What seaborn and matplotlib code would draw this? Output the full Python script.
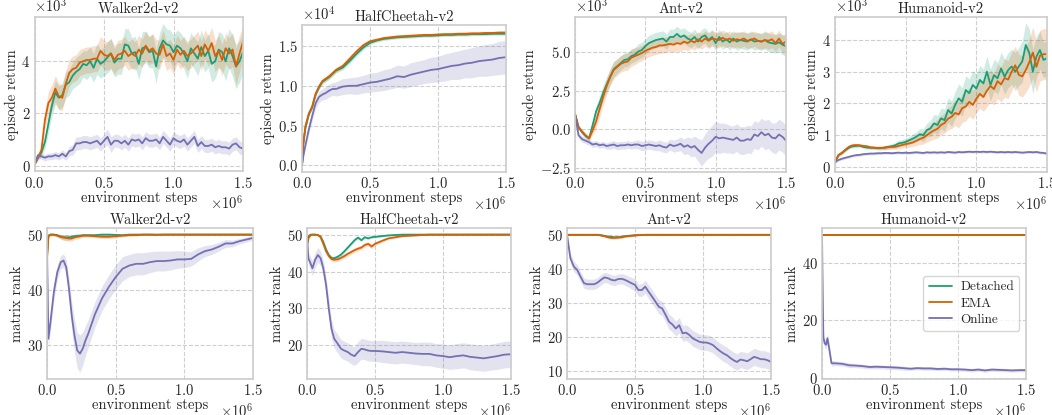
import numpy as np
import pandas as pd
import matplotlib
matplotlib.use("Agg")
import matplotlib.pyplot as plt
import seaborn as sns

# ---------------- data ----------------
METHODS = ["Detached", "EMA", "Online"]
ENVS = ["Walker2d-v2", "HalfCheetah-v2", "Ant-v2", "Humanoid-v2"]

# sampling grid (x 1e6 environment steps)
FINE = [round(i * 0.025, 3) for i in range(61)]

# ---- Walker2d episode return (x1e3) ----
walker_ret_detached = [0.04, 0.3, 0.5, 0.9, 1.6, 2.3, 2.8, 2.6, 2.7, 3.1,
                       3.2, 3.45, 3.6, 3.7, 3.9, 3.85, 4.0, 3.75, 4.1, 3.9,
                       4.0, 4.15, 4.3, 3.95, 4.1, 4.1, 4.65, 4.6, 4.3, 4.35,
                       3.9, 4.5, 4.55, 4.35, 4.4, 3.8, 4.5, 4.8, 4.65, 4.6,
                       4.35, 4.6, 4.5, 4.3, 4.0, 4.5, 4.3, 4.1, 4.55, 4.2,
                       4.4, 3.9, 4.0, 4.45, 4.35, 4.0, 4.5, 4.2, 3.8, 4.0, 4.35]
walker_ret_ema = [0.04, 0.3, 0.6, 1.75, 2.4, 2.6, 2.95, 2.65, 2.6, 3.15,
                  3.55, 3.7, 3.75, 3.95, 4.0, 4.05, 4.05, 4.1, 4.1, 4.4,
                  4.25, 4.2, 4.3, 4.05, 4.25, 4.3, 4.4, 4.2, 4.3, 4.2,
                  4.45, 4.3, 4.6, 4.4, 4.5, 4.3, 4.25, 4.65, 4.2, 4.3,
                  4.05, 4.45, 4.25, 4.4, 4.2, 4.3, 4.45, 4.6, 4.2, 4.65,
                  4.4, 4.7, 4.2, 4.4, 4.05, 4.5, 4.3, 4.45, 3.8, 4.3, 4.75]
walker_ret_online = [0.05, 0.4, 0.35, 0.3, 0.35, 0.35, 0.4, 0.35, 0.45, 0.35,
                     0.55, 0.6, 0.85, 0.85, 0.9, 0.9, 0.85, 0.9, 0.95, 0.8,
                     0.95, 1.1, 0.8, 0.95, 0.95, 0.85, 0.95, 0.8, 1.0, 0.95,
                     1.0, 0.85, 1.05, 0.95, 0.95, 1.0, 0.85, 1.1, 0.95, 0.8,
                     1.05, 0.95, 0.9, 1.0, 0.8, 0.95, 1.1, 0.75, 0.9, 0.75,
                     0.75, 0.8, 0.7, 0.75, 0.7, 0.7, 0.65, 0.8, 0.85, 0.7, 0.65]
walker_ret_detached_sd = [0.05, 0.1, 0.15, 0.25, 0.35, 0.4, 0.45, 0.45, 0.45, 0.5,
                          0.5, 0.5, 0.55, 0.55, 0.5, 0.55, 0.55, 0.55, 0.6, 0.55,
                          0.55, 0.6, 0.6, 0.55, 0.6, 0.6, 0.6, 0.65, 0.6, 0.6,
                          0.6, 0.65, 0.6, 0.6, 0.65, 0.65, 0.6, 0.65, 0.6, 0.6,
                          0.65, 0.6, 0.6, 0.6, 0.65, 0.6, 0.6, 0.65, 0.65, 0.6,
                          0.65, 0.7, 0.65, 0.7, 0.7, 0.75, 0.75, 0.8, 0.85, 0.8, 0.75]
walker_ret_ema_sd = [0.05, 0.1, 0.2, 0.35, 0.45, 0.5, 0.5, 0.5, 0.5, 0.5,
                     0.5, 0.5, 0.5, 0.5, 0.5, 0.5, 0.5, 0.5, 0.5, 0.55,
                     0.55, 0.55, 0.55, 0.55, 0.55, 0.55, 0.55, 0.55, 0.55, 0.55,
                     0.55, 0.55, 0.55, 0.55, 0.55, 0.55, 0.55, 0.55, 0.55, 0.55,
                     0.55, 0.55, 0.55, 0.55, 0.55, 0.55, 0.55, 0.55, 0.55, 0.55,
                     0.6, 0.6, 0.6, 0.6, 0.6, 0.6, 0.6, 0.65, 0.7, 0.7, 0.6]
walker_ret_online_sd = [0.05, 0.1, 0.12, 0.12, 0.13, 0.13, 0.14, 0.14, 0.15, 0.15,
                        0.18, 0.2, 0.25, 0.25, 0.25, 0.25, 0.25, 0.25, 0.25, 0.25,
                        0.25, 0.3, 0.3, 0.25, 0.25, 0.25, 0.25, 0.25, 0.25, 0.25,
                        0.25, 0.25, 0.25, 0.25, 0.25, 0.25, 0.25, 0.25, 0.25, 0.25,
                        0.25, 0.25, 0.25, 0.25, 0.25, 0.25, 0.25, 0.25, 0.25, 0.25,
                        0.25, 0.25, 0.25, 0.25, 0.25, 0.25, 0.25, 0.25, 0.25, 0.25, 0.25]

# ---- HalfCheetah episode return (x1e4) ----
hc_ret_steps = [0, 0.01, 0.025, 0.05, 0.075, 0.1, 0.125, 0.15, 0.175, 0.2, 0.225,
                0.25, 0.3, 0.35, 0.4, 0.45, 0.5, 0.55, 0.6, 0.65, 0.7, 0.75, 0.8,
                0.85, 0.9, 0.95, 1.0, 1.05, 1.1, 1.15, 1.2, 1.25, 1.3, 1.35, 1.4,
                1.45, 1.5]
hc_ret_detached = [0, 0.27, 0.47, 0.64, 0.73, 0.89, 0.98, 1.05, 1.08, 1.11, 1.15,
                   1.19, 1.23, 1.31, 1.4, 1.48, 1.54, 1.57, 1.59, 1.6, 1.61, 1.615, 1.62,
                   1.625, 1.63, 1.63, 1.635, 1.64, 1.64, 1.645, 1.645, 1.65, 1.65, 1.65,
                   1.655, 1.655, 1.655]
hc_ret_ema = [0, 0.28, 0.49, 0.65, 0.74, 0.9, 0.99, 1.06, 1.09, 1.12, 1.16,
              1.2, 1.25, 1.34, 1.43, 1.51, 1.56, 1.58, 1.6, 1.61, 1.62, 1.625, 1.63,
              1.635, 1.64, 1.64, 1.645, 1.65, 1.65, 1.655, 1.655, 1.66, 1.66, 1.665,
              1.665, 1.67, 1.67]
hc_ret_online = [0, 0.12, 0.25, 0.45, 0.62, 0.78, 0.86, 0.89, 0.91, 0.94, 0.96,
                 0.96, 0.99, 1.0, 1.0, 1.02, 1.04, 1.05, 1.07, 1.09, 1.12, 1.11, 1.14,
                 1.16, 1.18, 1.2, 1.21, 1.23, 1.25, 1.26, 1.28, 1.29, 1.31, 1.32, 1.33,
                 1.35, 1.36]
hc_ret_detached_sd = [0, 0.02, 0.03, 0.03, 0.03, 0.03, 0.03, 0.03, 0.03, 0.03, 0.03,
                      0.03, 0.03, 0.03, 0.03, 0.03, 0.02, 0.02, 0.02, 0.02, 0.02, 0.02,
                      0.02, 0.02, 0.02, 0.02, 0.02, 0.02, 0.02, 0.02, 0.02, 0.02, 0.02,
                      0.02, 0.02, 0.02, 0.02]
hc_ret_ema_sd = [0, 0.02, 0.03, 0.03, 0.03, 0.03, 0.03, 0.03, 0.03, 0.03, 0.03,
                 0.03, 0.03, 0.03, 0.03, 0.03, 0.02, 0.02, 0.02, 0.02, 0.02, 0.02,
                 0.02, 0.02, 0.02, 0.02, 0.02, 0.02, 0.02, 0.02, 0.02, 0.02, 0.02,
                 0.02, 0.02, 0.02, 0.02]
hc_ret_online_sd = [0, 0.03, 0.04, 0.05, 0.06, 0.06, 0.07, 0.07, 0.08, 0.08, 0.08,
                    0.09, 0.1, 0.1, 0.11, 0.11, 0.12, 0.12, 0.13, 0.13, 0.14, 0.14,
                    0.15, 0.15, 0.15, 0.16, 0.16, 0.17, 0.17, 0.18, 0.18, 0.19, 0.19,
                    0.2, 0.2, 0.21, 0.21]

# ---- Ant episode return (x1e3) ----
ant_ret_detached = [1.0, 0.15, -0.2, -0.45, -0.6, 0.25, 1.15, 1.7, 2.35, 2.9,
                    3.4, 3.9, 4.1, 4.3, 4.5, 4.55, 4.75, 4.85, 5.05, 5.15,
                    5.4, 5.6, 5.7, 5.8, 5.85, 5.9, 5.7, 6.0, 6.0, 6.2,
                    6.0, 6.1, 5.9, 5.8, 6.0, 5.7, 6.0, 6.1, 5.8, 6.0,
                    5.6, 6.0, 5.7, 5.85, 5.65, 5.9, 5.7, 5.8, 5.75, 5.7,
                    5.85, 5.7, 5.75, 5.7, 5.8, 5.65, 5.6, 5.55, 5.65, 5.5, 5.4]
ant_ret_ema = [1.0, 0.1, -0.15, -0.4, -0.6, -0.1, 0.5, 1.3, 2.1, 2.8,
               3.4, 3.85, 4.05, 4.25, 4.35, 4.4, 4.65, 4.75, 4.85, 4.95,
               5.1, 5.2, 5.3, 5.35, 5.45, 5.45, 5.5, 5.55, 5.5, 5.6,
               5.55, 5.7, 5.6, 5.75, 5.65, 5.85, 5.7, 5.9, 5.75, 5.9,
               5.85, 5.8, 5.95, 5.8, 5.9, 5.75, 5.85, 5.8, 5.9, 5.75,
               5.8, 5.9, 5.75, 5.7, 5.8, 5.75, 5.85, 5.6, 5.9, 5.55, 5.7]
ant_ret_online = [1.0, -0.4, -0.65, -0.75, -0.85, -1.0, -0.95, -1.05, -1.0, -1.1,
                  -1.05, -1.0, -1.1, -1.05, -1.05, -1.0, -1.05, -1.0, -1.0, -1.1,
                  -1.05, -1.0, -1.05, -1.1, -1.05, -1.15, -1.2, -1.0, -1.1, -1.05,
                  -0.95, -1.15, -1.05, -1.2, -1.1, -1.35, -1.55, -1.2, -0.95, -0.75,
                  -0.5, -0.6, -0.55, -0.6, -0.65, -0.7, -0.55, -0.75, -0.75, -0.65,
                  -0.7, -0.35, -0.45, -0.2, -0.4, -0.3, -0.55, -0.6, -0.35, -0.5, -0.75]
ant_ret_detached_sd = [0.1, 0.15, 0.15, 0.15, 0.15, 0.3, 0.4, 0.45, 0.5, 0.5,
                       0.5, 0.5, 0.45, 0.45, 0.45, 0.45, 0.45, 0.45, 0.5, 0.5,
                       0.5, 0.5, 0.5, 0.5, 0.5, 0.5, 0.5, 0.5, 0.5, 0.5,
                       0.5, 0.5, 0.5, 0.5, 0.5, 0.5, 0.5, 0.5, 0.5, 0.5,
                       0.5, 0.5, 0.5, 0.5, 0.5, 0.5, 0.55, 0.55, 0.55, 0.55,
                       0.55, 0.55, 0.55, 0.55, 0.6, 0.6, 0.6, 0.6, 0.6, 0.65, 0.65]
ant_ret_ema_sd = [0.1, 0.15, 0.15, 0.15, 0.15, 0.3, 0.45, 0.5, 0.55, 0.55,
                  0.55, 0.55, 0.55, 0.55, 0.55, 0.55, 0.55, 0.55, 0.5, 0.5,
                  0.5, 0.5, 0.5, 0.5, 0.5, 0.5, 0.5, 0.5, 0.5, 0.5,
                  0.5, 0.5, 0.5, 0.5, 0.5, 0.5, 0.5, 0.5, 0.5, 0.5,
                  0.5, 0.5, 0.5, 0.5, 0.5, 0.5, 0.5, 0.5, 0.5, 0.5,
                  0.5, 0.5, 0.5, 0.5, 0.5, 0.55, 0.55, 0.55, 0.55, 0.55, 0.55]
ant_ret_online_sd = [0.1, 0.2, 0.2, 0.2, 0.2, 0.2, 0.2, 0.2, 0.2, 0.2,
                     0.25, 0.25, 0.25, 0.25, 0.25, 0.25, 0.25, 0.25, 0.3, 0.3,
                     0.3, 0.3, 0.3, 0.3, 0.35, 0.35, 0.35, 0.35, 0.4, 0.4,
                     0.45, 0.5, 0.55, 0.6, 0.65, 0.75, 0.85, 0.9, 0.95, 1.0,
                     1.0, 1.0, 0.95, 0.95, 0.9, 0.9, 0.9, 0.9, 0.9, 0.9,
                     0.9, 0.9, 0.9, 0.9, 0.95, 0.95, 0.95, 1.0, 1.0, 1.0, 1.0]

# ---- Humanoid episode return (x1e3) ----
hum_ret_detached = [0.16, 0.37, 0.44, 0.53, 0.61, 0.65, 0.66, 0.67, 0.63, 0.61,
                    0.6, 0.61, 0.59, 0.59, 0.61, 0.63, 0.65, 0.68, 0.74, 0.76,
                    0.79, 0.84, 0.89, 0.95, 1.03, 1.0, 1.16, 1.21, 1.37, 1.32,
                    1.53, 1.47, 1.79, 1.68, 1.95, 2.16, 2.05, 2.42, 2.32, 2.58,
                    2.47, 2.74, 2.63, 3.0, 2.58, 2.89, 2.79, 3.1, 2.84, 3.05,
                    3.16, 3.0, 3.16, 3.32, 3.84, 3.58, 3.0, 3.47, 3.68, 3.37, 3.42]
hum_ret_ema = [0.16, 0.38, 0.45, 0.55, 0.64, 0.68, 0.69, 0.68, 0.66, 0.65,
               0.62, 0.6, 0.6, 0.6, 0.6, 0.62, 0.63, 0.63, 0.66, 0.69,
               0.72, 0.74, 0.77, 0.82, 0.88, 0.92, 1.0, 1.08, 1.15, 1.2,
               1.32, 1.38, 1.52, 1.58, 1.7, 1.65, 1.85, 1.9, 2.05, 1.95,
               2.15, 2.3, 2.2, 2.4, 2.55, 2.45, 2.7, 2.6, 2.8, 2.75,
               3.0, 3.2, 2.9, 2.85, 3.05, 3.3, 3.6, 3.15, 3.5, 3.55, 3.55]
hum_ret_online = [0.15, 0.22, 0.26, 0.29, 0.32, 0.35, 0.37, 0.38, 0.4, 0.41,
                  0.42, 0.42, 0.43, 0.43, 0.44, 0.44, 0.43, 0.44, 0.45, 0.44,
                  0.45, 0.44, 0.45, 0.46, 0.45, 0.44, 0.46, 0.45, 0.46, 0.45,
                  0.46, 0.45, 0.47, 0.46, 0.45, 0.47, 0.46, 0.47, 0.48, 0.47,
                  0.48, 0.47, 0.48, 0.47, 0.48, 0.47, 0.46, 0.47, 0.46, 0.47,
                  0.46, 0.47, 0.46, 0.45, 0.46, 0.47, 0.46, 0.47, 0.45, 0.44, 0.42]
hum_ret_detached_sd = [0.05, 0.05, 0.05, 0.05, 0.05, 0.05, 0.05, 0.05, 0.05, 0.05,
                       0.05, 0.05, 0.06, 0.06, 0.07, 0.07, 0.08, 0.08, 0.1, 0.1,
                       0.12, 0.12, 0.15, 0.15, 0.18, 0.2, 0.22, 0.25, 0.28, 0.3,
                       0.32, 0.35, 0.38, 0.4, 0.42, 0.45, 0.45, 0.45, 0.45, 0.45,
                       0.45, 0.45, 0.45, 0.5, 0.5, 0.5, 0.5, 0.5, 0.55, 0.55,
                       0.55, 0.6, 0.6, 0.65, 0.7, 0.75, 0.7, 0.65, 0.6, 0.55, 0.55]
hum_ret_ema_sd = [0.05, 0.05, 0.05, 0.05, 0.05, 0.05, 0.05, 0.05, 0.05, 0.05,
                  0.05, 0.05, 0.05, 0.05, 0.06, 0.06, 0.07, 0.08, 0.09, 0.1,
                  0.1, 0.12, 0.13, 0.15, 0.17, 0.2, 0.22, 0.25, 0.27, 0.3,
                  0.3, 0.32, 0.35, 0.37, 0.4, 0.42, 0.45, 0.45, 0.45, 0.45,
                  0.45, 0.45, 0.45, 0.5, 0.5, 0.5, 0.55, 0.55, 0.6, 0.6,
                  0.6, 0.6, 0.65, 0.65, 0.7, 0.75, 0.8, 0.8, 0.8, 0.8, 0.8]
hum_ret_online_sd = [0.04, 0.04, 0.04, 0.04, 0.04, 0.04, 0.04, 0.04, 0.04, 0.04,
                     0.04, 0.04, 0.04, 0.04, 0.04, 0.04, 0.04, 0.04, 0.04, 0.04,
                     0.04, 0.04, 0.04, 0.04, 0.04, 0.04, 0.04, 0.04, 0.04, 0.04,
                     0.04, 0.04, 0.04, 0.04, 0.04, 0.04, 0.04, 0.04, 0.04, 0.04,
                     0.04, 0.04, 0.04, 0.04, 0.04, 0.04, 0.04, 0.04, 0.04, 0.04,
                     0.04, 0.04, 0.04, 0.04, 0.04, 0.04, 0.04, 0.04, 0.04, 0.04, 0.04]

# ---- Walker2d matrix rank ----
walker_rank_steps = [0, 0.01, 0.025, 0.05, 0.075, 0.1, 0.12, 0.14, 0.16, 0.18,
                     0.2, 0.22, 0.24, 0.26, 0.28, 0.3, 0.35, 0.4, 0.45, 0.5,
                     0.55, 0.6, 0.65, 0.7, 0.75, 0.8, 0.85, 0.9, 0.95, 1.0,
                     1.05, 1.1, 1.15, 1.2, 1.25, 1.3, 1.35, 1.4, 1.45, 1.5]
walker_rank_detached = [46.0, 49.8, 50, 50, 49.9, 49.6, 49.5, 49.5, 49.5, 49.6,
                        49.7, 49.8, 49.8, 49.9, 49.9, 49.9, 49.9, 50, 50, 49.95,
                        49.9, 50, 50, 50, 50, 50, 50, 50, 50, 50,
                        50, 50, 50, 50, 50, 50, 50, 50, 50, 50]
walker_rank_ema = [45.5, 49.7, 50, 50, 49.8, 49.6, 49.5, 49.4, 49.3, 49.3,
                   49.5, 49.6, 49.7, 49.8, 49.8, 49.8, 49.7, 49.6, 49.6, 49.7,
                   49.8, 49.9, 49.9, 50, 50, 49.95, 50, 50, 50, 50,
                   50, 50, 50, 50, 50, 50, 50, 50, 50, 50]
walker_rank_online = [47.5, 31.1, 34.1, 39.6, 43.2, 45.0, 45.3, 44.1, 40.2, 35.3,
                      31.7, 29.0, 28.4, 29.3, 30.8, 32.0, 35.6, 38.4, 40.5, 42.3,
                      43.8, 44.4, 44.7, 44.7, 45.0, 45.2, 45.2, 45.3, 45.5, 45.5,
                      45.6, 46.4, 47.0, 47.3, 47.8, 48.4, 48.4, 48.8, 49.1, 49.4]
walker_rank_detached_sd = [0.5, 0.3, 0.2, 0.2, 0.3, 0.4, 0.5, 0.5, 0.5, 0.4,
                           0.3, 0.3, 0.3, 0.2, 0.2, 0.2, 0.2, 0.2, 0.15, 0.15,
                           0.1, 0.1, 0.1, 0.1, 0.1, 0.1, 0.1, 0.1, 0.1, 0.1,
                           0.1, 0.1, 0.1, 0.1, 0.1, 0.1, 0.1, 0.1, 0.1, 0.1]
walker_rank_ema_sd = [0.5, 0.3, 0.2, 0.2, 0.3, 0.4, 0.5, 0.5, 0.5, 0.5,
                      0.4, 0.4, 0.4, 0.3, 0.3, 0.3, 0.3, 0.3, 0.3, 0.3,
                      0.2, 0.2, 0.15, 0.1, 0.1, 0.1, 0.1, 0.1, 0.1, 0.1,
                      0.1, 0.1, 0.1, 0.1, 0.1, 0.1, 0.1, 0.1, 0.1, 0.1]
walker_rank_online_sd = [0.5, 1.5, 1.5, 1.5, 1.3, 1.2, 1.2, 1.3, 1.8, 2.5,
                         3.0, 3.2, 3.4, 3.0, 2.7, 2.5, 2.3, 2.2, 2.2, 2.2,
                         2.2, 2.0, 2.0, 2.0, 1.9, 1.8, 1.8, 1.7, 1.6, 1.5,
                         1.3, 1.2, 1.0, 0.9, 0.8, 0.7, 0.6, 0.5, 0.45, 0.4]

# ---- HalfCheetah matrix rank ----
hc_rank_steps = [0, 0.01, 0.025, 0.04, 0.06, 0.08, 0.1, 0.12, 0.14, 0.16,
                 0.18, 0.2, 0.225, 0.25, 0.275, 0.3, 0.325, 0.35, 0.375, 0.4,
                 0.425, 0.45, 0.475, 0.5, 0.55, 0.6, 0.65, 0.7, 0.75, 0.8,
                 0.85, 0.9, 0.95, 1.0, 1.05, 1.1, 1.15, 1.2, 1.25, 1.3,
                 1.35, 1.4, 1.45, 1.5]
hc_rank_detached = [47.5, 49.5, 50, 50, 50, 49.9, 49.5, 48.0, 46.0, 44.5,
                    43.7, 43.6, 44.0, 44.6, 45.5, 46.5, 47.5, 48.5, 49.2, 48.5,
                    49.3, 49.0, 49.3, 49.4, 49.6, 49.8, 49.9, 50, 50, 50,
                    50, 50, 50, 50, 50, 50, 50, 50, 50, 50,
                    50, 50, 50, 50]
hc_rank_ema = [47.0, 49.0, 49.8, 50, 50, 49.9, 49.3, 47.5, 45.5, 44.2,
               43.4, 43.2, 43.3, 43.7, 44.2, 44.8, 45.3, 45.8, 46.2, 46.5,
               47.2, 47.5, 46.8, 47.5, 48.3, 49.0, 49.3, 49.6, 49.7, 49.8,
               49.9, 50, 50, 50, 50, 50, 50, 50, 50, 50,
               50, 50, 50, 50]
hc_rank_online = [49.5, 43.6, 42.3, 40.9, 43.2, 44.5, 43.6, 40.9, 36.4, 30.0,
                  24.5, 21.8, 20.5, 19.1, 18.6, 18.2, 17.5, 17.1, 18.2, 19.1,
                  18.9, 18.6, 18.5, 18.5, 18.4, 18.2, 18.0, 18.2, 18.0, 17.8,
                  17.7, 17.7, 17.3, 17.1, 16.8, 17.1, 17.3, 16.9, 16.7, 16.5,
                  16.8, 17.1, 17.5, 17.6]
hc_rank_detached_sd = [0.5, 0.4, 0.2, 0.1, 0.1, 0.1, 0.2, 0.3, 0.4, 0.5,
                       0.5, 0.5, 0.5, 0.5, 0.5, 0.5, 0.4, 0.4, 0.4, 0.4,
                       0.4, 0.3, 0.3, 0.3, 0.2, 0.2, 0.1, 0.1, 0.1, 0.1,
                       0.1, 0.1, 0.1, 0.1, 0.1, 0.1, 0.1, 0.1, 0.1, 0.1,
                       0.1, 0.1, 0.1, 0.1]
hc_rank_ema_sd = [0.5, 0.4, 0.2, 0.1, 0.1, 0.1, 0.2, 0.3, 0.4, 0.5,
                  0.6, 0.6, 0.6, 0.6, 0.6, 0.6, 0.6, 0.6, 0.6, 0.6,
                  0.6, 0.6, 0.6, 0.5, 0.4, 0.3, 0.3, 0.2, 0.2, 0.2,
                  0.1, 0.1, 0.1, 0.1, 0.1, 0.1, 0.1, 0.1, 0.1, 0.1,
                  0.1, 0.1, 0.1, 0.1]
hc_rank_online_sd = [0.5, 1.5, 1.8, 2.0, 2.0, 2.0, 2.0, 2.0, 2.2, 2.5,
                     2.5, 2.5, 2.5, 2.5, 2.5, 2.5, 2.5, 2.5, 2.8, 2.8,
                     2.8, 2.8, 2.8, 2.8, 3.0, 3.0, 3.0, 3.0, 3.0, 3.0,
                     3.2, 3.2, 3.2, 3.3, 3.3, 3.4, 3.4, 3.5, 3.5, 3.5,
                     3.5, 3.6, 3.6, 3.6]

# ---- Ant matrix rank ----
ant_rank_detached = [50, 50, 50, 50, 50, 50, 50, 50, 50, 50,
                     49.9, 49.7, 49.5, 49.4, 49.3, 49.3, 49.4, 49.6, 49.7, 49.8,
                     49.9, 49.9, 50, 50, 50, 50, 50, 50, 50, 50,
                     50, 50, 50, 50, 50, 50, 50, 50, 50, 50,
                     50, 50, 50, 50, 50, 50, 50, 50, 50, 50,
                     50, 50, 50, 50, 50, 50, 50, 50, 50, 50, 50]
ant_rank_ema = [50, 50, 50, 50, 50, 50, 50, 50, 50, 50,
                49.8, 49.6, 49.3, 49.1, 49.1, 49.2, 49.3, 49.5, 49.6, 49.7,
                49.8, 49.9, 49.9, 50, 50, 50, 50, 50, 50, 50,
                50, 50, 50, 50, 50, 50, 50, 50, 50, 50,
                50, 50, 50, 50, 50, 50, 50, 50, 50, 50,
                50, 50, 50, 50, 50, 50, 50, 50, 50, 50, 50]
ant_rank_online = [50, 43.1, 40.7, 39.7, 37.7, 35.8, 35.5, 35.5, 35.5, 36.0,
                   36.8, 37.5, 37.3, 36.8, 36.6, 37.0, 37.1, 36.8, 36.3, 35.8,
                   35.3, 33.8, 33.8, 34.8, 33.3, 31.9, 30.4, 28.9, 28.4, 26.5,
                   24.5, 23.7, 22.5, 23.5, 21.1, 21.3, 20.6, 19.6, 19.1, 18.6,
                   18.4, 18.4, 18.1, 17.6, 16.7, 15.9, 15.2, 14.7, 13.9, 13.2,
                   12.7, 13.4, 13.2, 12.9, 13.5, 14.2, 13.9, 13.5, 13.5, 13.2, 12.7]
ant_rank_detached_sd = [0.1, 0.1, 0.1, 0.1, 0.1, 0.1, 0.1, 0.1, 0.1, 0.1,
                        0.2, 0.3, 0.4, 0.4, 0.4, 0.4, 0.4, 0.3, 0.3, 0.2,
                        0.2, 0.1, 0.1, 0.1, 0.1, 0.1, 0.1, 0.1, 0.1, 0.1,
                        0.1, 0.1, 0.1, 0.1, 0.1, 0.1, 0.1, 0.1, 0.1, 0.1,
                        0.1, 0.1, 0.1, 0.1, 0.1, 0.1, 0.1, 0.1, 0.1, 0.1,
                        0.1, 0.1, 0.1, 0.1, 0.1, 0.1, 0.1, 0.1, 0.1, 0.1, 0.1]
ant_rank_ema_sd = [0.1, 0.1, 0.1, 0.1, 0.1, 0.1, 0.1, 0.1, 0.1, 0.1,
                   0.2, 0.3, 0.4, 0.4, 0.4, 0.4, 0.4, 0.3, 0.3, 0.2,
                   0.2, 0.1, 0.1, 0.1, 0.1, 0.1, 0.1, 0.1, 0.1, 0.1,
                   0.1, 0.1, 0.1, 0.1, 0.1, 0.1, 0.1, 0.1, 0.1, 0.1,
                   0.1, 0.1, 0.1, 0.1, 0.1, 0.1, 0.1, 0.1, 0.1, 0.1,
                   0.1, 0.1, 0.1, 0.1, 0.1, 0.1, 0.1, 0.1, 0.1, 0.1, 0.1]
ant_rank_online_sd = [0.3, 1.5, 1.5, 1.5, 1.5, 1.5, 1.5, 1.5, 1.5, 1.5,
                      1.5, 1.5, 1.5, 1.5, 1.5, 1.5, 1.5, 1.6, 1.6, 1.7,
                      1.8, 1.8, 1.9, 1.9, 2.0, 2.0, 2.0, 2.1, 2.1, 2.1,
                      2.2, 2.2, 2.2, 2.3, 2.3, 2.3, 2.3, 2.3, 2.3, 2.3,
                      2.3, 2.3, 2.3, 2.3, 2.3, 2.3, 2.4, 2.4, 2.4, 2.4,
                      2.4, 2.4, 2.4, 2.4, 2.5, 2.5, 2.5, 2.5, 2.5, 2.5, 2.5]

# ---- Humanoid matrix rank ----
hum_rank_steps = [0, 0.005, 0.01, 0.02, 0.03, 0.04, 0.05, 0.06, 0.07, 0.1,
                  0.15, 0.2, 0.25, 0.3, 0.35, 0.4, 0.45, 0.5, 0.55, 0.6,
                  0.65, 0.7, 0.75, 0.8, 0.85, 0.9, 0.95, 1.0, 1.05, 1.1,
                  1.15, 1.2, 1.25, 1.3, 1.35, 1.4, 1.45, 1.5]
hum_rank_detached = [50, 50, 50, 50, 50, 50, 50, 50, 50, 50,
                     50, 50, 50, 50, 50, 50, 50, 50, 50, 50,
                     50, 50, 50, 50, 50, 50, 50, 50, 50, 50,
                     50, 50, 50, 50, 50, 50, 50, 50]
hum_rank_ema = [50, 50, 50, 50, 50, 50, 50, 50, 50, 50,
                50, 50, 50, 50, 50, 50, 50, 50, 50, 50,
                50, 50, 50, 50, 50, 50, 50, 50, 50, 50,
                50, 50, 50, 50, 50, 50, 50, 50]
hum_rank_online = [50, 30, 14, 12, 11.5, 13.8, 11, 8, 5, 5.0,
                   4.8, 4.3, 4.2, 4.0, 3.7, 3.8, 3.7, 3.6, 3.5, 3.3,
                   3.1, 3.3, 3.2, 3.2, 3.0, 3.1, 2.9, 2.9, 2.8, 2.6,
                   2.8, 2.5, 2.8, 2.7, 2.6, 2.5, 2.6, 2.6]
hum_rank_flat_sd = [0, 0, 0, 0, 0, 0, 0, 0, 0, 0,
                    0, 0, 0, 0, 0, 0, 0, 0, 0, 0,
                    0, 0, 0, 0, 0, 0, 0, 0, 0, 0,
                    0, 0, 0, 0, 0, 0, 0, 0]
hum_rank_online_sd = [0.1, 3.0, 2.0, 1.5, 1.5, 1.5, 1.5, 1.2, 1.0, 0.8,
                      0.8, 0.8, 0.7, 0.7, 0.7, 0.7, 0.7, 0.7, 0.7, 0.7,
                      0.6, 0.6, 0.6, 0.6, 0.6, 0.6, 0.6, 0.6, 0.6, 0.6,
                      0.6, 0.6, 0.6, 0.6, 0.6, 0.6, 0.6, 0.6]

# ---------------- panel specs ----------------
panels = [
    dict(steps=FINE, means=(walker_ret_detached, walker_ret_ema, walker_ret_online),
         sds=(walker_ret_detached_sd, walker_ret_ema_sd, walker_ret_online_sd),
         scale=1e3, ylim=(-230, 5700), yticks=[0, 2000, 4000], ylabel="episode return",
         title=ENVS[0], px=(34.5, 17, 243, 171.5), sci=True),
    dict(steps=hc_ret_steps, means=(hc_ret_detached, hc_ret_ema, hc_ret_online),
         sds=(hc_ret_detached_sd, hc_ret_ema_sd, hc_ret_online_sd),
         scale=1e4, ylim=(-850, 17650), yticks=[0, 5000, 10000, 15000], ylabel="episode return",
         title=ENVS[1], px=(302, 25, 506, 172), sci=True),
    dict(steps=FINE, means=(ant_ret_detached, ant_ret_ema, ant_ret_online),
         sds=(ant_ret_detached_sd, ant_ret_ema_sd, ant_ret_online_sd),
         scale=1e3, ylim=(-2790, 7300), yticks=[-2500, 0, 2500, 5000], ylabel="episode return",
         title=ENVS[2], px=(575, 17, 786, 172), sci=True),
    dict(steps=FINE, means=(hum_ret_detached, hum_ret_ema, hum_ret_online),
         sds=(hum_ret_detached_sd, hum_ret_ema_sd, hum_ret_online_sd),
         scale=1e3, ylim=(-160, 4720), yticks=[0, 1000, 2000, 3000, 4000], ylabel="episode return",
         title=ENVS[3], px=(835, 17, 1047, 172), sci=True),
    dict(steps=walker_rank_steps, means=(walker_rank_detached, walker_rank_ema, walker_rank_online),
         sds=(walker_rank_detached_sd, walker_rank_ema_sd, walker_rank_online_sd),
         scale=1, ylim=(23.8, 51.2), yticks=[30, 40, 50], ylabel="matrix rank",
         title=ENVS[0], px=(47, 228, 253, 379), sci=False),
    dict(steps=hc_rank_steps, means=(hc_rank_detached, hc_rank_ema, hc_rank_online),
         sds=(hc_rank_detached_sd, hc_rank_ema_sd, hc_rank_online_sd),
         scale=1, ylim=(10.9, 51.8), yticks=[20, 30, 40, 50], ylabel="matrix rank",
         title=ENVS[1], px=(307, 228, 511, 379), sci=False),
    dict(steps=FINE, means=(ant_rank_detached, ant_rank_ema, ant_rank_online),
         sds=(ant_rank_detached_sd, ant_rank_ema_sd, ant_rank_online_sd),
         scale=1, ylim=(7.7, 52.0), yticks=[10, 20, 30, 40, 50], ylabel="matrix rank",
         title=ENVS[2], px=(567, 228, 771, 379), sci=False),
    dict(steps=hum_rank_steps, means=(hum_rank_detached, hum_rank_ema, hum_rank_online),
         sds=(hum_rank_flat_sd, hum_rank_flat_sd, hum_rank_online_sd),
         scale=1, ylim=(-0.5, 52.4), yticks=[0, 20, 40], ylabel="matrix rank",
         title=ENVS[3], px=(822, 228, 1026, 379), sci=False),
]

# ---------------- style ----------------
sns.set_theme(style="whitegrid", rc={
    "grid.linestyle": "--",
    "grid.color": "#cfcfcf",
    "grid.linewidth": 0.8,
    "axes.edgecolor": "#cccccc",
    "axes.linewidth": 1.2,
    "xtick.bottom": False,
    "ytick.left": False,
})
plt.rcParams["font.family"] = ["cmr10", "DejaVu Serif"]
plt.rcParams["mathtext.fontset"] = "cm"
plt.rcParams["axes.formatter.use_mathtext"] = True
plt.rcParams["axes.unicode_minus"] = True
FS = 10.5
PALETTE = dict(zip(METHODS, sns.color_palette("Dark2", 3)))

W, H = 1052, 415
fig = plt.figure(figsize=(W / 100, H / 100), dpi=100)

band = lambda v: (v.min(), v.max())

for i, p in enumerate(panels):
    l, t, r, b = p["px"]
    ax = fig.add_axes([l / W, 1 - b / H, (r - l) / W, (b - t) / H])
    rows = []
    for m, mean, sd in zip(METHODS, p["means"], p["sds"]):
        for x, mu, s in zip(p["steps"], mean, sd):
            for v in (mu - s, mu, mu + s):
                rows.append((x * 1e6, v * p["scale"], m))
    df = pd.DataFrame(rows, columns=["step", "value", "method"])
    sns.lineplot(data=df, x="step", y="value", hue="method", hue_order=METHODS,
                 palette=PALETTE, estimator="mean", errorbar=band,
                 err_kws={"alpha": 0.2, "linewidth": 0}, linewidth=1.3,
                 ax=ax, legend=(i == 7))
    ax.set_xlim(0, 1.5e6)
    ax.set_xticks([0, 0.5e6, 1.0e6, 1.5e6])
    ax.set_ylim(*p["ylim"])
    ax.set_yticks(p["yticks"])
    ax.ticklabel_format(axis="x", style="sci", scilimits=(0, 0))
    if p["sci"]:
        ax.ticklabel_format(axis="y", style="sci", scilimits=(0, 0))
    ax.tick_params(labelsize=FS, pad=3, length=0)
    ax.xaxis.get_offset_text().set_fontsize(FS)
    ax.yaxis.get_offset_text().set_fontsize(FS)
    ax.set_xlabel("environment steps", fontsize=FS, labelpad=0)
    ax.set_ylabel(p["ylabel"], fontsize=FS, labelpad=2)
    ax.set_title(p["title"], fontsize=FS, pad=3)
    for sp in ax.spines.values():
        sp.set_visible(True)
    if i == 7:
        h, lab = ax.get_legend_handles_labels()
        ax.legend(h, lab, loc="center right", fontsize=9.5, frameon=True,
                  borderpad=0.4, labelspacing=0.3, handlelength=1.8,
                  handletextpad=0.6)

fig.savefig("out.png", dpi=100)
